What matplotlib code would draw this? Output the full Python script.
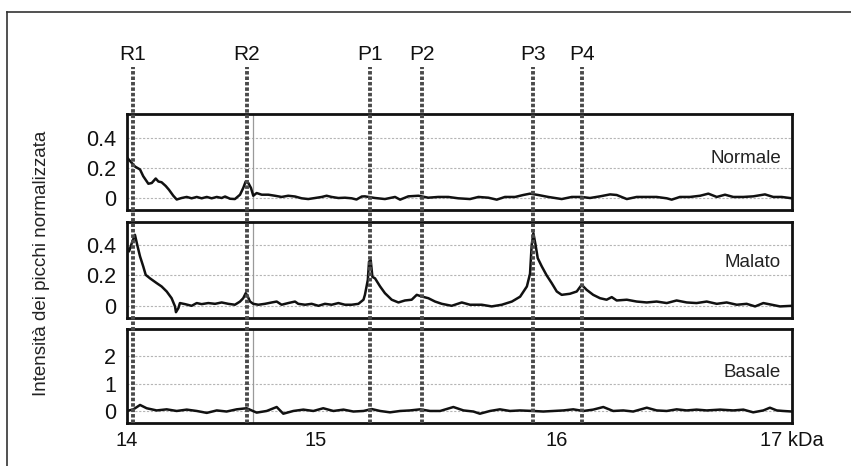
import numpy as np
import matplotlib
matplotlib.use("Agg")
import matplotlib.pyplot as plt
from matplotlib.lines import Line2D
import matplotlib.transforms as mtransforms

plt.rcParams['font.family'] = ['Liberation Sans', 'DejaVu Sans']

# --- data (x in kDa, y = normalised peak intensity) ---
normale_kda = [14.0, 14.042, 14.069, 14.086, 14.113, 14.131, 14.152, 14.166, 14.183, 14.205,
               14.222, 14.245, 14.263, 14.289, 14.316, 14.342, 14.369, 14.395, 14.422, 14.448,
               14.475, 14.501, 14.519, 14.545, 14.571, 14.598, 14.615, 14.628, 14.642, 14.656,
               14.668, 14.686, 14.713, 14.748, 14.783, 14.818, 14.853, 14.889, 14.924, 14.959,
               14.995, 15.024, 15.044, 15.065, 15.093, 15.120, 15.148, 15.168, 15.190, 15.203,
               15.245, 15.286, 15.328, 15.349, 15.383, 15.425, 15.466, 15.507, 15.549, 15.590,
               15.639, 15.674, 15.715, 15.750, 15.784, 15.826, 15.860, 15.888, 15.922, 15.964,
               16.020, 16.063, 16.105, 16.140, 16.183, 16.226, 16.254, 16.297, 16.339, 16.382,
               16.424, 16.467, 16.488, 16.523, 16.566, 16.609, 16.644, 16.680, 16.715, 16.750,
               16.793, 16.835, 16.885, 16.920, 16.956, 17.0]
normale_int = [0.27, 0.21, 0.19, 0.145, 0.095, 0.10, 0.13, 0.11, 0.105, 0.08,
               0.055, 0.015, -0.01, 0.0, 0.007, -0.002, 0.007, -0.002, 0.007, -0.002,
               0.007, 0.0, 0.01, -0.005, -0.007, 0.022, 0.067, 0.11, 0.10, 0.067,
               0.015, 0.033, 0.022, 0.022, 0.015, 0.007, 0.015, 0.01, -0.002, -0.007,
               0.0, 0.007, 0.015, 0.007, 0.0, 0.002, -0.002, -0.01, 0.01, 0.011,
               0.0, -0.007, 0.007, -0.011, 0.011, 0.015, 0.002, 0.007, 0.007, -0.002,
               -0.007, 0.007, 0.002, -0.011, 0.007, 0.007, 0.02, 0.029, 0.02, 0.007,
               -0.007, 0.007, 0.007, 0.0, 0.011, 0.024, 0.02, -0.007, 0.007, 0.007,
               0.007, -0.002, -0.011, 0.007, 0.007, 0.015, 0.029, 0.007, 0.022, 0.007,
               0.007, 0.011, 0.024, 0.007, 0.007, -0.002]

malato_kda = [14.0, 14.011, 14.025, 14.042, 14.056, 14.069, 14.086, 14.099, 14.122, 14.157,
              14.183, 14.210, 14.236, 14.254, 14.259, 14.272, 14.280, 14.307, 14.342, 14.369,
              14.395, 14.430, 14.466, 14.501, 14.536, 14.571, 14.598, 14.615, 14.628, 14.639,
              14.651, 14.668, 14.695, 14.730, 14.766, 14.792, 14.818, 14.853, 14.889, 14.906,
              14.942, 14.977, 15.010, 15.037, 15.065, 15.093, 15.120, 15.148, 15.176, 15.197,
              15.203, 15.215, 15.220, 15.227, 15.234, 15.245, 15.266, 15.286, 15.314, 15.342,
              15.369, 15.397, 15.418, 15.439, 15.466, 15.494, 15.522, 15.563, 15.605, 15.639,
              15.688, 15.729, 15.771, 15.813, 15.847, 15.875, 15.888, 15.895, 15.902, 15.911,
              15.920, 15.937, 15.957, 15.978, 15.999, 16.020, 16.055, 16.084, 16.105, 16.126,
              16.154, 16.183, 16.211, 16.233, 16.254, 16.297, 16.339, 16.382, 16.424, 16.467,
              16.509, 16.552, 16.594, 16.637, 16.680, 16.722, 16.765, 16.807, 16.843, 16.878,
              16.914, 16.949, 17.0]
malato_int = [0.38, 0.357, 0.41, 0.466, 0.39, 0.324, 0.258, 0.203, 0.18, 0.149,
              0.127, 0.094, 0.05, -0.004, -0.042, -0.015, 0.018, 0.011, 0.0, 0.018,
              0.011, 0.018, 0.013, 0.022, 0.013, 0.007, 0.028, 0.05, 0.083, 0.061,
              0.028, 0.013, 0.007, 0.013, 0.022, 0.028, 0.007, 0.018, 0.028, 0.013,
              0.007, 0.013, 0.0, 0.013, 0.007, 0.018, 0.007, 0.007, 0.013, 0.04,
              0.072, 0.17, 0.29, 0.30, 0.19, 0.18, 0.127, 0.083, 0.04, 0.022,
              0.035, 0.04, 0.072, 0.061, 0.05, 0.028, 0.013, 0.0, 0.022, 0.007,
              0.007, -0.004, 0.007, 0.028, 0.06, 0.127, 0.21, 0.40, 0.477, 0.40,
              0.313, 0.258, 0.20, 0.149, 0.094, 0.072, 0.079, 0.094, 0.138, 0.105,
              0.072, 0.05, 0.04, 0.057, 0.035, 0.04, 0.028, 0.022, 0.028, 0.018,
              0.035, 0.022, 0.018, 0.028, 0.013, 0.022, 0.007, 0.013, -0.004, 0.018,
              0.007, -0.004, 0.0]

basale_kda = [14.0, 14.034, 14.069, 14.104, 14.157, 14.210, 14.263, 14.316, 14.369, 14.422,
              14.475, 14.527, 14.580, 14.633, 14.686, 14.739, 14.792, 14.827, 14.880, 14.933,
              14.986, 15.030, 15.072, 15.114, 15.155, 15.197, 15.231, 15.266, 15.307, 15.349,
              15.390, 15.432, 15.473, 15.515, 15.570, 15.612, 15.653, 15.680, 15.722, 15.763,
              15.805, 15.846, 15.901, 15.943, 15.984, 16.027, 16.069, 16.112, 16.154, 16.197,
              16.239, 16.282, 16.324, 16.382, 16.424, 16.467, 16.509, 16.552, 16.594, 16.637,
              16.694, 16.750, 16.793, 16.835, 16.878, 16.906, 16.935, 16.963, 17.0]
basale_int = [0.0, 0.06, 0.22, 0.10, 0.02, 0.06, 0.0, 0.05, 0.0, -0.07,
              0.02, -0.02, 0.06, 0.10, -0.06, 0.0, 0.145, -0.10, 0.0, 0.05,
              0.0, 0.10, 0.0, 0.05, -0.02, 0.0, 0.07, 0.0, -0.05, 0.0,
              0.02, 0.06, 0.0, 0.0, 0.145, 0.02, -0.02, -0.10, 0.0, 0.06,
              0.0, 0.02, 0.0, -0.02, 0.0, 0.02, 0.06, 0.0, 0.05, 0.145,
              0.0, 0.02, -0.02, 0.12, 0.02, 0.0, 0.06, 0.02, 0.05, 0.02,
              0.05, 0.02, 0.05, -0.05, 0.02, 0.12, 0.02, 0.0, -0.02]

peak_names = ['R1', 'R2', 'P1', 'P2', 'P3', 'P4']
peak_kda = [14.03, 14.635, 15.224, 15.44, 15.90, 16.106]

panel_names = ['Normale', 'Malato', 'Basale']
panel_yticks = [[0, 0.2, 0.4], [0, 0.2, 0.4], [0, 1, 2]]
panel_ytick_labels = [['0', '0.2', '0.4'], ['0', '0.2', '0.4'], ['0', '1', '2']]

xtick_kda = [14, 15, 16, 17]
xtick_labels = ['14', '15', '16', '17 kDa']

# the printed kDa axis is not evenly spaced; tick spacing on the page (px)
tick_px = [0, 189, 430, 665]


def fwd(x):
    return np.interp(x, xtick_kda, tick_px)


def inv(p):
    return np.interp(p, tick_px, xtick_kda)


W, H = 851, 466
fig = plt.figure(figsize=(W / 100, H / 100), dpi=100)

# panel boxes in pixels: (top, bottom)
boxes = [(114, 210), (222, 318), (329, 423)]
left_px, right_px = 127, 792
ylims = [(-0.08, 0.56), (-0.08, 0.55), (-0.44, 3.0)]
label_y = [0.54, 0.573, 0.532]
series = [(normale_kda, normale_int), (malato_kda, malato_int), (basale_kda, basale_int)]

axes = []
for i, (top, bot) in enumerate(boxes):
    ax = fig.add_axes([left_px / W, 1 - bot / H, (right_px - left_px) / W, (bot - top) / H])
    ax.set_xscale('function', functions=(fwd, inv))
    ax.set_xlim(14, 17)
    ax.set_ylim(*ylims[i])
    ax.set_facecolor('none')
    for s in ax.spines.values():
        s.set_linewidth(2.0)
        s.set_color('#111111')
    for yv in panel_yticks[i]:
        ax.axhline(yv, color='#b5b5b5', lw=0.8, ls=(0, (2, 1.5)), zorder=1)
    ax.set_yticks(panel_yticks[i])
    ax.set_yticklabels(panel_ytick_labels[i])
    ax.tick_params(axis='y', length=0, pad=8, labelsize=15.5, labelcolor='#111111')
    ax.set_xticks(xtick_kda)
    if i < 2:
        ax.set_xticklabels([])
        ax.tick_params(axis='x', length=0)
    else:
        ax.set_xticklabels(xtick_labels)
        ax.tick_params(axis='x', length=0, pad=6, labelsize=14.5, labelcolor='#111111')
    # thin grey rule right of R2 seen on the original plate
    ax.axvline(14.668, color='#9a9a9a', lw=0.9, zorder=1)
    xs, ys = series[i]
    ax.plot(xs, ys, color='#111111', lw=1.8, zorder=3)
    ax.text(0.9835, label_y[i], panel_names[i], transform=ax.transAxes,
            ha='right', va='center', fontsize=13.5, color='#222222')
    axes.append(ax)

# dotted marker lines running from the labels through all three panels
ax3 = axes[2]
top_frac = (boxes[2][1] - 67) / (boxes[2][1] - boxes[2][0])
for name, xk in zip(peak_names, peak_kda):
    ax3.axvline(xk, ymin=0, ymax=top_frac, clip_on=False, color='#4a4a4a',
                lw=2.8, ls=(0, (0.9, 0.5)), zorder=4)
trans = mtransforms.blended_transform_factory(axes[0].transData, axes[0].transAxes)
for name, xk in zip(peak_names, peak_kda):
    axes[0].text(xk, (boxes[0][1] - 55) / (boxes[0][1] - boxes[0][0]), name,
                 transform=trans, ha='center', va='center', fontsize=15, color='#111111')

fig.text(42 / W, 1 - 263 / H, 'Intensità dei picchi normalizzata', rotation=90,
         ha='center', va='center', fontsize=13.5, color='#222222')

# page frame (top and left edges only)
fig.add_artist(Line2D([7 / W, 1], [1 - 12 / H, 1 - 12 / H], transform=fig.transFigure,
                      color='#333333', lw=1.2))
fig.add_artist(Line2D([7 / W, 7 / W], [0, 1 - 12 / H], transform=fig.transFigure,
                      color='#333333', lw=1.2))

fig.savefig('out.png', dpi=100)
